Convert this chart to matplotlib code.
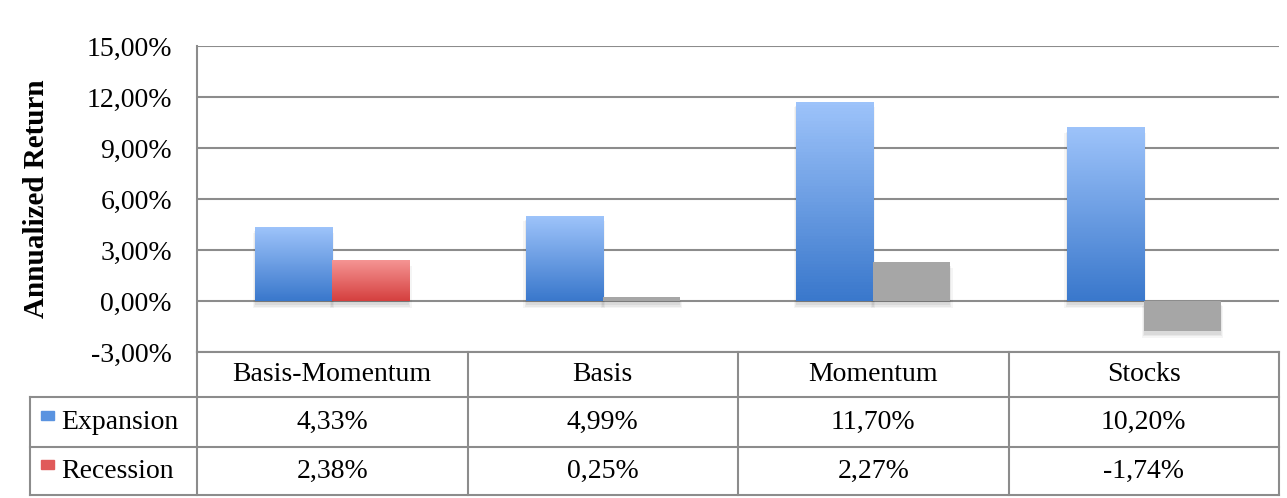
import numpy as np
import matplotlib.pyplot as plt
import matplotlib.transforms as mtransforms
from matplotlib.colors import LinearSegmentedColormap

plt.rcParams['font.family'] = ['Liberation Serif', 'DejaVu Serif']

categories = ["Basis-Momentum", "Basis", "Momentum", "Stocks"]
expansion = [4.33, 4.99, 11.70, 10.20]
recession = [2.38, 0.25, 2.27, -1.74]
series_names = ["Expansion", "Recession"]
yticks = [-3, 0, 3, 6, 9, 12, 15]


def pct(v):
    return ("%.2f%%" % v).replace(".", ",")


fs = 20

fig = plt.figure(figsize=(12.87, 4.98), dpi=100)
ax = fig.add_axes([197 / 1287, 1 - 352 / 498, 1082 / 1287, 306 / 498])

x = np.arange(len(categories))
w = 0.285

blue_cmap = LinearSegmentedColormap.from_list("b", ["#3a78cc", "#9dc3fa"])
red_cmap = LinearSegmentedColormap.from_list("r", ["#d5403f", "#f59493"])
grad = np.linspace(0, 1, 64).reshape(-1, 1)

exp_bars = ax.bar(x - w / 2, expansion, w, color="none", zorder=3)
rec_bars = ax.bar(x + w / 2, recession, w, color="none", zorder=3)

# soft shadows
for b in list(exp_bars) + list(rec_bars):
    x0, y0 = b.get_x(), min(b.get_y(), b.get_y() + b.get_height())
    h = abs(b.get_height())
    for k, a in enumerate([0.06, 0.05, 0.04]):
        ax.add_patch(plt.Rectangle((x0 - 0.004 * k, y0 - 0.25 - 0.08 * k), w + 0.008 * k, h + 0.1,
                                   color="black", alpha=a, lw=0, zorder=2))

for b in exp_bars:
    x0, h = b.get_x(), b.get_height()
    ax.imshow(grad, cmap=blue_cmap, aspect="auto", origin="lower",
              extent=[x0, x0 + w, 0, h], zorder=3)

for i, b in enumerate(rec_bars):
    x0, h = b.get_x(), b.get_height()
    if i == 0:
        ax.imshow(grad, cmap=red_cmap, aspect="auto", origin="lower",
                  extent=[x0, x0 + w, 0, h], zorder=3)
    else:
        ax.add_patch(plt.Rectangle((x0, 0), w, h, color="#a6a6a6", lw=0, zorder=3))

ax.set_xlim(-0.5, len(categories) - 0.5)
ax.set_ylim(-3, 15)
ax.set_yticks(yticks)
ax.set_yticklabels([pct(v) for v in yticks], fontsize=fs)
ax.set_xticks([])
ax.tick_params(axis="y", length=0, pad=18)
ax.grid(axis="y", color="#8c8c8c", lw=1.5, zorder=0)
for s in ["top", "right", "bottom"]:
    ax.spines[s].set_visible(False)
ax.spines["left"].set_color("#8c8c8c")
ax.spines["left"].set_linewidth(1.5)
ax.set_ylabel("Annualized Return", fontsize=21, fontweight="bold", labelpad=26)

# data table below the plot
tr = mtransforms.blended_transform_factory(ax.transData, ax.transAxes)
row_h = [0, -45 / 306, -95 / 306, -143 / 306]
lc = "#8c8c8c"
left_edge = -0.5 - 167 / 270.5
right_edge = len(categories) - 0.5
kw = dict(color=lc, lw=1.5, transform=tr, clip_on=False)
ax.plot([-0.5, right_edge], [row_h[0]] * 2, **kw)
for yy in row_h[1:]:
    ax.plot([left_edge, right_edge], [yy] * 2, **kw)
ax.plot([left_edge, left_edge], [row_h[1], row_h[3]], **kw)
for xx in np.arange(-0.5, len(categories), 1.0):
    ax.plot([xx, xx], [row_h[0], row_h[3]], **kw)

for i, c in enumerate(categories):
    ax.text(i, (row_h[0] + row_h[1]) / 2, c, transform=tr, ha="center", va="center", fontsize=fs)
    ax.text(i, (row_h[1] + row_h[2]) / 2, pct(expansion[i]), transform=tr, ha="center", va="center", fontsize=fs)
    ax.text(i, (row_h[2] + row_h[3]) / 2, pct(recession[i]), transform=tr, ha="center", va="center", fontsize=fs)

sq_colors = ["#5a93e0", "#e05a5a"]
for j, name in enumerate(series_names):
    yc = (row_h[j + 1] + row_h[j + 2]) / 2
    ax.add_patch(plt.Rectangle((left_edge + 0.04, yc + 0.005), 0.05, 0.03, color=sq_colors[j],
                               transform=tr, clip_on=False))
    ax.text(left_edge + 0.115, yc, name, transform=tr, ha="left", va="center", fontsize=fs)

fig.savefig("out.png", dpi=100)
